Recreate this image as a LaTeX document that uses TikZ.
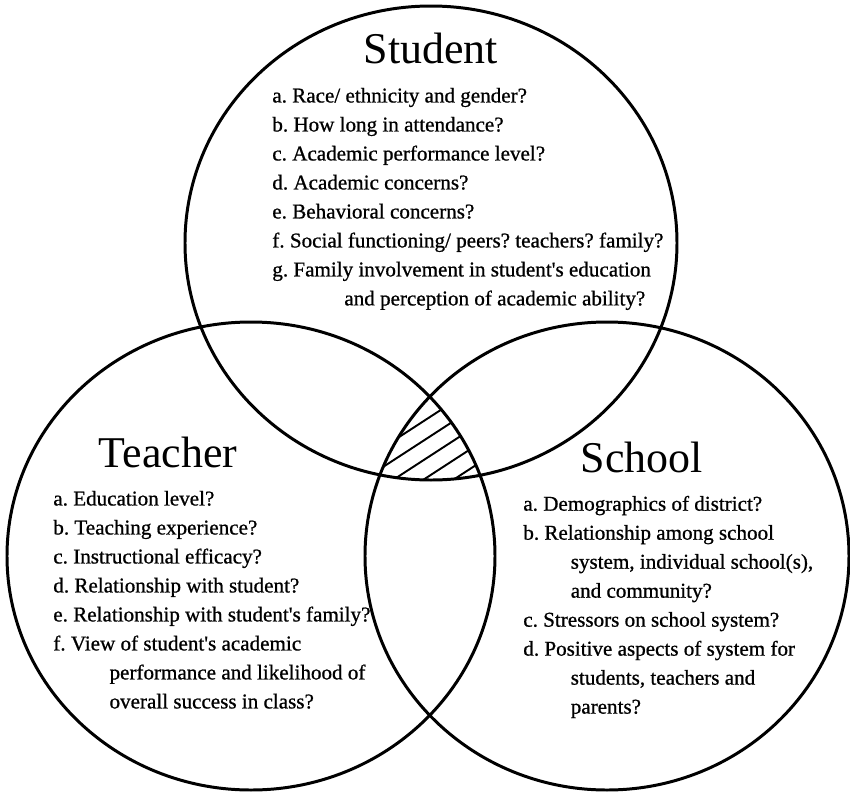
\documentclass[tikz,border=0pt]{standalone}
\usepackage{fontspec}
\setmainfont{Liberation Serif}
\newfontfamily\itemfamily{Liberation Serif}[FakeBold=0.8]
\usetikzlibrary{calc}
\def\itemfont{\itemfamily\fontsize{12}{16.5}\selectfont\frenchspacing}
\def\titlefont{\fontsize{25}{30}\selectfont}

\tikzset{
	ring/.style={line width=1.7pt},
	hatchline/.style={line width=1.1pt},
	title/.style={anchor=base, inner sep=0pt, font=\titlefont},
	items/.style={anchor=north west, inner sep=0pt, align=left, font=\itemfont}
}

\begin{document}
\begin{tikzpicture}[x=0.02cm, y=-0.02cm]
		%%%%% START %%%%%
		\useasboundingbox (0, 0) rectangle (850, 792);
		
		% the three rings
		\draw[ring] (431, 243) ellipse [x radius=246, y radius=237];
		\draw[ring] (251, 556) ellipse [x radius=244, y radius=234];
		\draw[ring] (607, 556) ellipse [x radius=242, y radius=234];
		
		% hatching where all three overlap
		\begin{scope}
			\clip (431, 243) ellipse [x radius=246, y radius=237];
			\clip (251, 556) ellipse [x radius=244, y radius=234];
			\clip (607, 556) ellipse [x radius=242, y radius=234];
			\foreach \x in {333, 363, 393, 423, 453}
				\draw[hatchline] (\x-40, 506) -- (\x+160, 376);
		\end{scope}
		
		\node[title] (student) at (431, 63) {Student};
		\node[items] (studentlist) at (272, 87.5) {%
			a. Race/ ethnicity and gender?\\
			b. How long in attendance?\\
			c. Academic performance level?\\
			d. Academic concerns?\\
			e. Behavioral concerns?\\
			f. Social functioning/ peers? teachers? family?\\
			g. Family involvement in student's education\\
			\hspace*{41pt}and perception of academic ability?};
		
		\node[title] (teacher) at (168, 467) {Teacher};
		\node[items] (teacherlist) at (53, 490.5) {%
			a. Education level?\\
			b. Teaching experience?\\
			c. Instructional efficacy?\\
			d. Relationship with student?\\
			e. Relationship with student's family?\\
			f. View of student's academic\\
			\hspace*{32pt}performance and likelihood of\\
			\hspace*{32pt}overall success in class?};
		
		\node[title] (school) at (642, 472) {School};
		\node[items] (schoollist) at (523, 495.5) {%
			a. Demographics of district?\\
			b. Relationship among school\\
			\hspace*{27pt}system, individual school(s),\\
			\hspace*{27pt}and community?\\
			c. Stressors on school system?\\
			d. Positive aspects of system for\\
			\hspace*{27pt}students, teachers and\\
			\hspace*{27pt}parents?};
		
		%%%%% END %%%%%
	\end{tikzpicture}
\end{document}
